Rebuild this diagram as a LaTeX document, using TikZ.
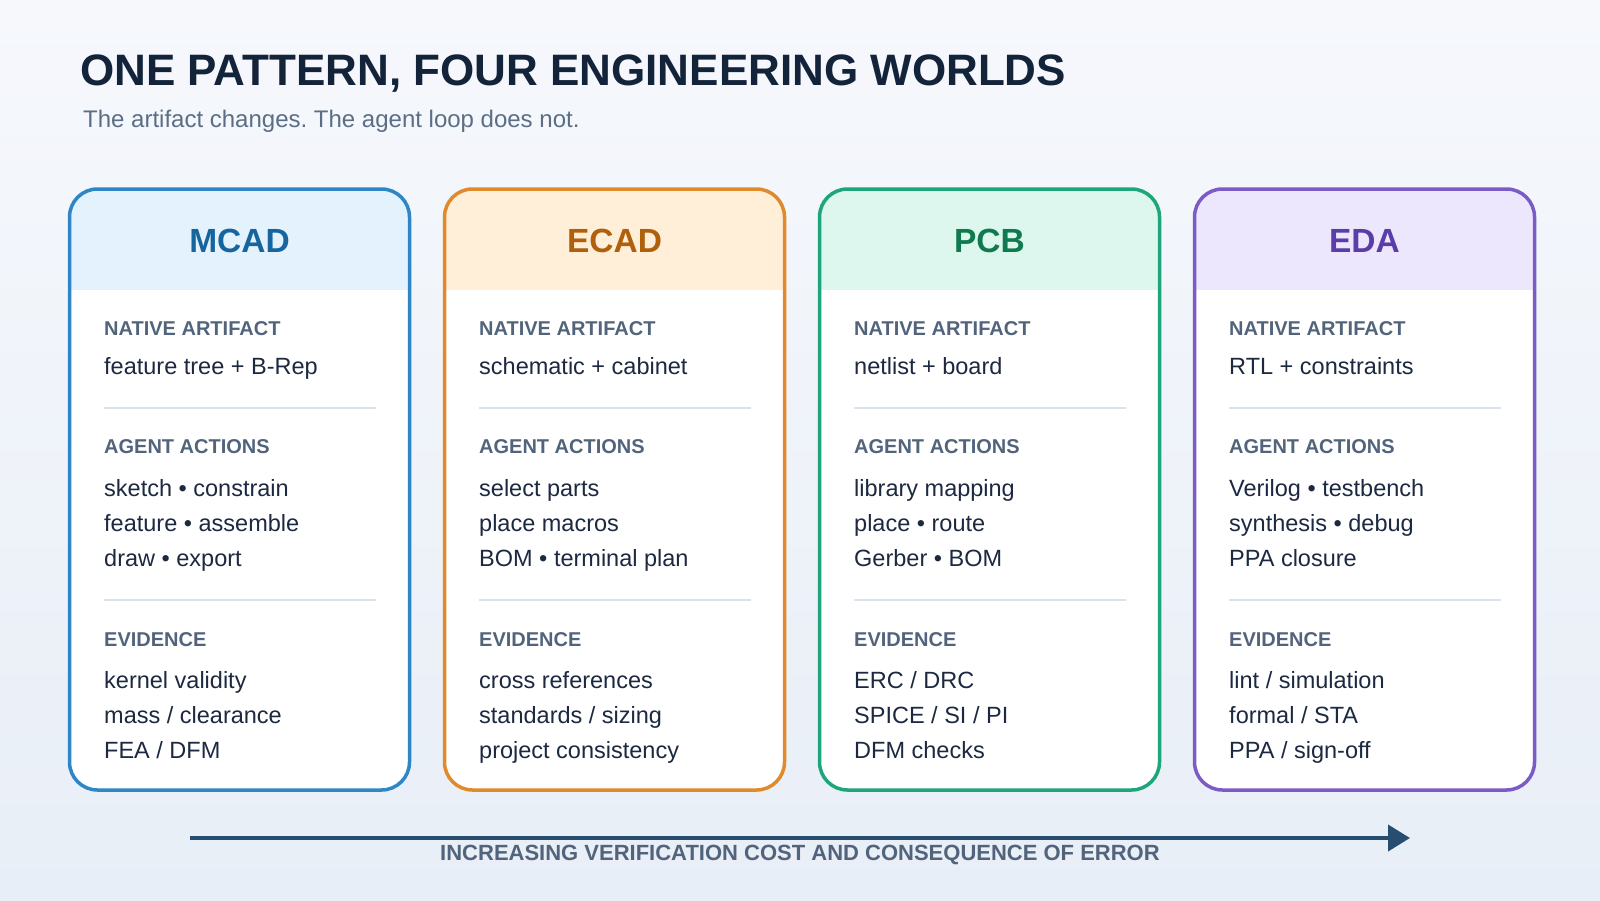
\documentclass[tikz,border=0pt]{standalone}
\usepackage{fontspec}
\setmainfont{Liberation Sans}
\frenchspacing
\usetikzlibrary{arrows.meta}
\definecolor{pagetop}{HTML}{F6F8FC}
\definecolor{pagebot}{HTML}{E8EEF7}
\definecolor{titleink}{HTML}{13233A}
\definecolor{subink}{HTML}{5B6E86}
\definecolor{labelgray}{HTML}{52647C}
\definecolor{itemink}{HTML}{1C2940}
\definecolor{rulegray}{HTML}{D9E2EC}
\definecolor{arrowblue}{HTML}{274D70}
\definecolor{mcadline}{HTML}{2F86C6}
\definecolor{mcadfill}{HTML}{E3F2FD}
\definecolor{mcadtext}{HTML}{17659F}
\definecolor{ecadline}{HTML}{E08A2B}
\definecolor{ecadfill}{HTML}{FFEFD9}
\definecolor{ecadtext}{HTML}{B0600B}
\definecolor{pcbline}{HTML}{1FA57A}
\definecolor{pcbfill}{HTML}{DDF7EE}
\definecolor{pcbtext}{HTML}{0E7A4E}
\definecolor{edaline}{HTML}{7B5CC6}
\definecolor{edafill}{HTML}{EDE7FD}
\definecolor{edatext}{HTML}{5A3DA6}
\tikzset{
  sectlabel/.style={anchor=base west, inner sep=0pt, text=labelgray, font=\bfseries\fontsize{20}{22}\selectfont},
  itemtext/.style={anchor=base west, inner sep=0pt, text=itemink, font=\fontsize{23.5}{28}\selectfont},
  cardtitle/.style={anchor=base, inner sep=0pt, font=\bfseries\fontsize{33.5}{38}\selectfont},
  divider/.style={line width=1.5pt, color=rulegray}
}
\def\cardframe(#1)[#2:#3]{
  \begin{scope}
    \clip[rounded corners=28pt] (#1,189) rectangle ++(340,601);
    \fill[white] (#1,189) rectangle ++(340,601);
    \fill[#3] (#1,189) rectangle ++(340,101);
  \end{scope}
  \draw[line width=3.5pt, color=#2, rounded corners=28pt] (#1,189) rectangle ++(340,601);
}

\begin{document}
\begin{tikzpicture}[x=1pt, y=-1pt]
			%%%%% START %%%%%
			
			\useasboundingbox (0,0) rectangle (1600,900);
			\shade[top color=pagetop, bottom color=pagebot] (0,0) rectangle (1600,900);
			
			\node[anchor=base west, inner sep=0pt, text=titleink, font=\bfseries\fontsize{44}{50}\selectfont] (title) at (80,85) {ONE PATTERN, FOUR ENGINEERING WORLDS};
			\node[anchor=base west, inner sep=0pt, text=subink, font=\fontsize{24}{28}\selectfont] (subtitle) at (83,127) {The artifact changes. The agent loop does not.};
			
			%% MCAD
			\cardframe(69.5)[mcadline:mcadfill]
			\node[cardtitle, text=mcadtext] (mcad) at (239.5,252) {MCAD};
			\node[sectlabel] (mcadNative) at (104,335) {NATIVE ARTIFACT};
			\node[itemtext] (mcadNativeA) at (104,374) {feature tree + B-Rep};
			\draw[divider] (104,408) -- (376,408);
			\node[sectlabel] (mcadAct) at (104,453) {AGENT ACTIONS};
			\node[itemtext] (mcadActA) at (104,496) {sketch • constrain};
			\node[itemtext] (mcadActB) at (104,531) {feature • assemble};
			\node[itemtext] (mcadActC) at (104,566) {draw • export};
			\draw[divider] (104,600) -- (376,600);
			\node[sectlabel] (mcadEvid) at (104,646) {EVIDENCE};
			\node[itemtext] (mcadEvidA) at (104,688) {kernel validity};
			\node[itemtext] (mcadEvidB) at (104,723) {mass / clearance};
			\node[itemtext] (mcadEvidC) at (104,758) {FEA / DFM};
			
			%% ECAD
			\cardframe(444.5)[ecadline:ecadfill]
			\node[cardtitle, text=ecadtext] (ecad) at (614.5,252) {ECAD};
			\node[sectlabel] (ecadNative) at (479,335) {NATIVE ARTIFACT};
			\node[itemtext] (ecadNativeA) at (479,374) {schematic + cabinet};
			\draw[divider] (479,408) -- (751,408);
			\node[sectlabel] (ecadAct) at (479,453) {AGENT ACTIONS};
			\node[itemtext] (ecadActA) at (479,496) {select parts};
			\node[itemtext] (ecadActB) at (479,531) {place macros};
			\node[itemtext] (ecadActC) at (479,566) {BOM • terminal plan};
			\draw[divider] (479,600) -- (751,600);
			\node[sectlabel] (ecadEvid) at (479,646) {EVIDENCE};
			\node[itemtext] (ecadEvidA) at (479,688) {cross references};
			\node[itemtext] (ecadEvidB) at (479,723) {standards / sizing};
			\node[itemtext] (ecadEvidC) at (479,758) {project consistency};
			
			%% PCB
			\cardframe(819.5)[pcbline:pcbfill]
			\node[cardtitle, text=pcbtext] (pcb) at (989.5,252) {PCB};
			\node[sectlabel] (pcbNative) at (854,335) {NATIVE ARTIFACT};
			\node[itemtext] (pcbNativeA) at (854,374) {netlist + board};
			\draw[divider] (854,408) -- (1126,408);
			\node[sectlabel] (pcbAct) at (854,453) {AGENT ACTIONS};
			\node[itemtext] (pcbActA) at (854,496) {library mapping};
			\node[itemtext] (pcbActB) at (854,531) {place • route};
			\node[itemtext] (pcbActC) at (854,566) {Gerber • BOM};
			\draw[divider] (854,600) -- (1126,600);
			\node[sectlabel] (pcbEvid) at (854,646) {EVIDENCE};
			\node[itemtext] (pcbEvidA) at (854,688) {ERC / DRC};
			\node[itemtext] (pcbEvidB) at (854,723) {SPICE / SI / PI};
			\node[itemtext] (pcbEvidC) at (854,758) {DFM checks};
			
			%% EDA
			\cardframe(1194.5)[edaline:edafill]
			\node[cardtitle, text=edatext] (eda) at (1364.5,252) {EDA};
			\node[sectlabel] (edaNative) at (1229,335) {NATIVE ARTIFACT};
			\node[itemtext] (edaNativeA) at (1229,374) {RTL + constraints};
			\draw[divider] (1229,408) -- (1501,408);
			\node[sectlabel] (edaAct) at (1229,453) {AGENT ACTIONS};
			\node[itemtext] (edaActA) at (1229,496) {Verilog • testbench};
			\node[itemtext] (edaActB) at (1229,531) {synthesis • debug};
			\node[itemtext] (edaActC) at (1229,566) {PPA closure};
			\draw[divider] (1229,600) -- (1501,600);
			\node[sectlabel] (edaEvid) at (1229,646) {EVIDENCE};
			\node[itemtext] (edaEvidA) at (1229,688) {lint / simulation};
			\node[itemtext] (edaEvidB) at (1229,723) {formal / STA};
			\node[itemtext] (edaEvidC) at (1229,758) {PPA / sign-off};
			
			%% cost axis
			\coordinate (costStart) at (190,838);
			\coordinate (costEnd) at (1410,838);
			\draw[line width=4pt, color=arrowblue, -{Triangle[length=22pt,width=26pt]}] (costStart) -- (costEnd);
			\node[anchor=base, inner sep=0pt, text=labelgray, font=\bfseries\fontsize{22}{24}\selectfont] (costLabel) at (800,860) {INCREASING VERIFICATION COST AND CONSEQUENCE OF ERROR};
			
			%%%%% END %%%%%
		\end{tikzpicture}
\end{document}
